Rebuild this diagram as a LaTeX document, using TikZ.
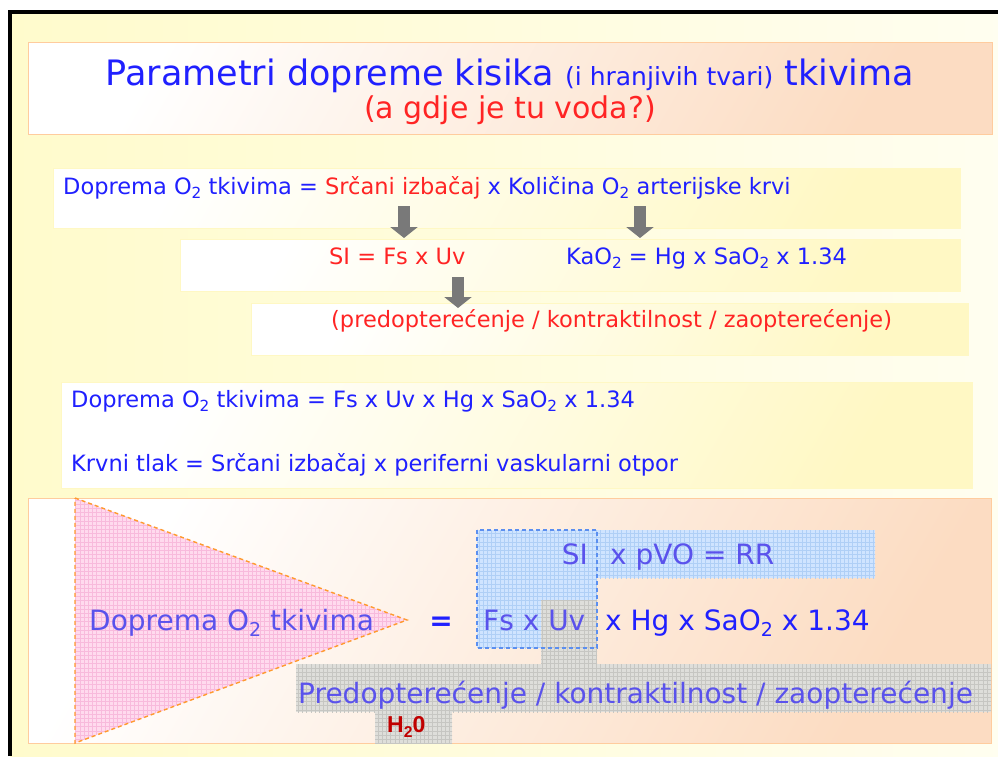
\documentclass[tikz,border=0pt]{standalone}
\usepackage{fontspec}
\setmainfont{DejaVu Sans}
\newfontfamily\arialfam{Liberation Sans}
\usetikzlibrary{patterns,arrows.meta,positioning}

\definecolor{txtblue}{HTML}{2020FF}
\definecolor{txtred}{HTML}{FF2424}
\definecolor{softblue}{HTML}{5A52EC}
\definecolor{slideyel}{HTML}{FFFBCC}
\definecolor{boxyel}{HTML}{FFF8C4}
\definecolor{peach}{HTML}{FCDCC2}
\definecolor{boxline}{HTML}{FFCC9E}
\definecolor{pinkfill}{HTML}{FFDAEE}
\definecolor{pinkgrid}{HTML}{F8BADC}
\definecolor{bluefill}{HTML}{CFE4FF}
\definecolor{bluegrid}{HTML}{AFCFF6}
\definecolor{grayfill}{HTML}{DEDEDA}
\definecolor{graygrid}{HTML}{C6C6C2}
\definecolor{dashorange}{HTML}{FF9A2E}
\definecolor{dashblue}{HTML}{5B8FF0}
\definecolor{waterred}{HTML}{C00000}

\pgfdeclarepatternformonly{meshgrid}{\pgfqpoint{-1pt}{-1pt}}{\pgfqpoint{5pt}{5pt}}{\pgfqpoint{4.2pt}{4.2pt}}{
    \pgfsetlinewidth{0.45pt}
    \pgfpathmoveto{\pgfqpoint{0pt}{0pt}}\pgfpathlineto{\pgfqpoint{4.2pt}{0pt}}
    \pgfpathmoveto{\pgfqpoint{0pt}{0pt}}\pgfpathlineto{\pgfqpoint{0pt}{4.2pt}}
    \pgfusepath{stroke}}

\newcommand{\dn}[1]{\raisebox{-0.22em}{\scalebox{0.68}{#1}}}

\begin{document}
\begin{tikzpicture}[x=1pt,y=-1pt,
    txt/.style={anchor=base west,inner sep=0pt,font=\fontsize{22.5}{26}\selectfont},
    bigtxt/.style={anchor=base west,inner sep=0pt,font=\fontsize{28}{32}\selectfont},
    creambox/.style={draw=boxyel,line width=0.5pt,left color=white,right color=boxyel,shading angle=60},
    peachbox/.style={draw=boxline,line width=1pt,left color=white,right color=peach,shading angle=60},
    pinkgrid/.style={fill=pinkfill,postaction={pattern=meshgrid,pattern color=pinkgrid}},
    bluegrid/.style={fill=bluefill,postaction={pattern=meshgrid,pattern color=bluegrid}},
    graygrid/.style={fill=grayfill,postaction={pattern=meshgrid,pattern color=graygrid}},
    blockarrow/.style={line width=12pt,draw=gray!95!black,-{Triangle[length=11pt,width=27pt]}}]
    \useasboundingbox (0,0) rectangle (998,756);

    % slide
    \fill[left color=slideyel,right color=white!70!slideyel] (10,12) rectangle (998,756);
    \draw[line width=4pt] (10,756) -- (10,12) -- (998,12);

    % title
    \path[peachbox] (28,42) rectangle (992,134);
    \node[anchor=base,inner sep=0pt,text=txtblue] (title) at (510,85)
        {\fontsize{35}{40}\selectfont Parametri dopreme kisika {\fontsize{25}{28}\selectfont (i hranjivih tvari)} tkivima};
    \node[anchor=base,inner sep=0pt,text=txtred] (question) at (510,118)
        {\fontsize{30}{34}\selectfont (a gdje je tu voda?)};

    % upper boxes
    \path[creambox] (53,168) rectangle (960,228);
    \path[creambox] (180,239) rectangle (960,291);
    \path[creambox] (251,303) rectangle (968,355);
    \path[creambox] (61,382) rectangle (972,488);

    \node[txt,text=txtblue] (supply) at (63,194)
        {Doprema O\dn{2} tkivima = \textcolor{txtred}{Srčani izbačaj} x Količina O\dn{2} arterijske krvi};
    \node[txt,text=txtred] (si) at (329,264) {SI = Fs x Uv};
    \node[txt,text=txtblue] (kao) at (566,264) {KaO\dn{2} = Hg x SaO\dn{2} x 1.34};
    \node[txt,text=txtred] (load) at (331,327)
        {(predopterećenje / kontraktilnost / zaopterećenje)};
    \node[txt,text=txtblue] (supply2) at (71,407)
        {Doprema O\dn{2} tkivima = Fs x Uv x Hg x SaO\dn{2} x 1.34};
    \node[txt,text=txtblue] (pressure) at (71,471)
        {Krvni tlak = Srčani izbačaj x periferni vaskularni otpor};

    \coordinate (arrA) at (404,206);
    \coordinate (arrAend) at (404,238);
    \coordinate (arrB) at (640,206);
    \coordinate (arrBend) at (640,238);
    \coordinate (arrC) at (458,277);
    \coordinate (arrCend) at (458,308);
    \draw[blockarrow] (arrA) -- (arrAend);
    \draw[blockarrow] (arrB) -- (arrBend);
    \draw[blockarrow] (arrC) -- (arrCend);

    % lower box
    \path[peachbox] (28,498) rectangle (991,743);
    \path[pinkgrid] (75,498) -- (407,620) -- (75,743) -- cycle;
    \draw[dashorange,line width=1.4pt,dash pattern=on 4pt off 3pt] (75,498) -- (407,620) -- (75,743) -- cycle;
    \path[bluegrid] (597,530) rectangle (875,578);
    \path[bluegrid] (477,530) rectangle (597,648);
    \path[graygrid] (541,600) rectangle (597,664);
    \draw[dashblue,line width=1.2pt,dash pattern=on 4pt off 3pt] (477,530) rectangle (597,648);
    \path[graygrid] (296,664) rectangle (991,712);
    \path[graygrid] (375,712) rectangle (452,743);

    \node[bigtxt,text=softblue] (tissue) at (89,630) {Doprema O\dn{2} tkivima};
    \node[bigtxt,anchor=base,text=txtblue,font=\fontsize{28}{32}\bfseries] (eq) at (441,630) {=};
    \node[bigtxt,anchor=base east,text=softblue] (si2) at (588,564) {SI};
    \node[bigtxt,text=softblue] (pvo) at (610,564) {x pVO = RR};
    \node[bigtxt,text=softblue] (fsuv) at (483,630) {Fs x Uv};
    \node[bigtxt,text=txtblue] (hgsat) at (605,630) {x Hg x SaO\dn{2} x 1.34};
    \node[bigtxt,text=softblue] (preload) at (298,703)
        {Predopterećenje / kontraktilnost / zaopterećenje};
    \node[anchor=base west,inner sep=0pt,text=waterred,font=\arialfam\fontsize{23}{26}\bfseries] (water) at (387,732) {H\dn{2}0};
\end{tikzpicture}
\end{document}
